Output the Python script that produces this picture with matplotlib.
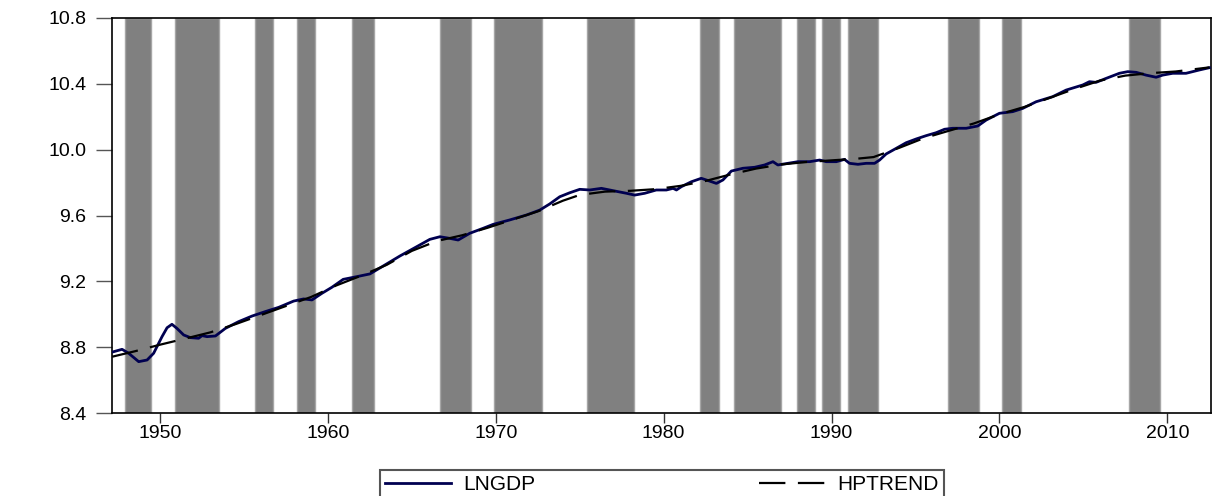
import matplotlib
matplotlib.use("Agg")
import matplotlib.pyplot as plt
from matplotlib.ticker import FixedLocator, FormatStrFormatter

plt.rcParams["font.family"] = ["Liberation Sans", "DejaVu Sans"]
plt.rcParams["lines.scale_dashes"] = False

# shaded periods (start, end) in years
shade_start = [1947.92, 1950.91, 1955.65, 1958.15, 1961.41, 1966.67, 1969.92, 1975.42,
               1982.18, 1984.19, 1987.94, 1989.42, 1990.95, 1996.92, 2000.18, 2007.71]
shade_end = [1949.46, 1953.49, 1956.74, 1959.24, 1962.74, 1968.51, 1972.76, 1978.26,
             1983.27, 1987.00, 1989.03, 1990.49, 1992.78, 1998.77, 2001.27, 2009.54]

lngdp_year = [1947.15, 1947.74, 1948.13, 1948.73, 1949.23, 1949.62, 1950.12, 1950.42,
              1950.71, 1951.01, 1951.41, 1951.81, 1952.30, 1952.50, 1952.80, 1953.30,
              1953.89, 1954.68, 1955.48, 1956.27, 1957.07, 1957.96, 1958.55, 1959.05,
              1959.64, 1960.24, 1960.91, 1961.70, 1962.50, 1963.29, 1964.29, 1965.28,
              1966.07, 1966.67, 1967.26, 1967.76, 1968.45, 1969.24, 1969.84, 1970.83,
              1971.83, 1972.62, 1973.21, 1973.81, 1974.40, 1975.00, 1975.60, 1976.29,
              1976.98, 1977.78, 1978.27, 1978.87, 1979.56, 1980.16, 1980.56, 1980.76,
              1981.05, 1981.65, 1982.24, 1982.74, 1983.14, 1983.53, 1984.03, 1984.72,
              1985.42, 1986.01, 1986.51, 1986.80, 1987.40, 1988.00, 1988.69, 1989.29,
              1989.68, 1990.28, 1990.77, 1991.07, 1991.57, 1992.06, 1992.56, 1992.86,
              1993.25, 1993.85, 1994.44, 1995.04, 1995.63, 1996.23, 1996.73, 1997.22,
              1998.02, 1998.71, 1999.21, 2000.00, 2000.79, 2001.39, 2002.18, 2003.17,
              2003.97, 2004.96, 2005.36, 2005.75, 2006.35, 2007.14, 2007.64, 2008.14,
              2008.73, 2009.33, 2009.72, 2010.32, 2011.11, 2011.90, 2012.50]
lngdp = [8.770, 8.787, 8.763, 8.712, 8.722, 8.763, 8.864, 8.918,
         8.939, 8.914, 8.874, 8.858, 8.854, 8.870, 8.864, 8.868,
         8.914, 8.955, 8.989, 9.016, 9.042, 9.080, 9.093, 9.087,
         9.127, 9.164, 9.212, 9.228, 9.245, 9.293, 9.354, 9.410,
         9.455, 9.471, 9.461, 9.451, 9.492, 9.522, 9.546, 9.573,
         9.603, 9.633, 9.670, 9.714, 9.738, 9.759, 9.755, 9.765,
         9.751, 9.735, 9.724, 9.735, 9.755, 9.755, 9.765, 9.755,
         9.775, 9.805, 9.826, 9.809, 9.795, 9.816, 9.870, 9.887,
         9.893, 9.907, 9.927, 9.907, 9.917, 9.927, 9.927, 9.937,
         9.927, 9.927, 9.941, 9.917, 9.911, 9.917, 9.917, 9.937,
         9.974, 10.008, 10.042, 10.065, 10.085, 10.103, 10.124, 10.130,
         10.130, 10.144, 10.180, 10.221, 10.231, 10.251, 10.291, 10.322,
         10.362, 10.393, 10.413, 10.409, 10.433, 10.464, 10.474, 10.470,
         10.453, 10.440, 10.453, 10.464, 10.464, 10.484, 10.498]

# Hodrick-Prescott trend
hp_year = [1947.15, 1948.5, 1950.0, 1951.5, 1953.0, 1954.5, 1956.0, 1957.5, 1959.0,
           1960.5, 1962.0, 1963.5, 1965.0, 1966.5, 1968.0, 1969.5, 1971.0, 1972.5,
           1974.0, 1975.0, 1976.5, 1978.0, 1979.5, 1981.0, 1982.5, 1984.0, 1985.5,
           1987.0, 1988.5, 1990.0, 1991.5, 1992.5, 1994.0, 1995.5, 1997.0, 1998.5,
           2000.0, 2001.5, 2003.0, 2004.5, 2006.0, 2007.5, 2009.0, 2010.5, 2012.5]
hptrend = [8.742, 8.775, 8.815, 8.852, 8.890, 8.940, 8.995, 9.050, 9.105,
           9.175, 9.235, 9.300, 9.385, 9.445, 9.480, 9.525, 9.575, 9.625,
           9.690, 9.725, 9.745, 9.750, 9.760, 9.780, 9.810, 9.850, 9.885,
           9.910, 9.925, 9.935, 9.945, 9.955, 10.010, 10.070, 10.115, 10.160,
           10.215, 10.260, 10.315, 10.370, 10.420, 10.450, 10.465, 10.475, 10.500]

x_ticks = [1950, 1960, 1970, 1980, 1990, 2000, 2010]
y_ticks = [8.4, 8.8, 9.2, 9.6, 10.0, 10.4, 10.8]

fig = plt.figure(figsize=(12.13, 4.96), dpi=100)
ax = fig.add_axes([112 / 1213, 83 / 496, 1099 / 1213, 395 / 496])

for s, e in zip(shade_start, shade_end):
    ax.axvspan(s, e, facecolor="#808080", edgecolor="#a6a6a6", linewidth=1.0, zorder=1)

ax.plot(lngdp_year, lngdp, color="#000050", linewidth=2.0, label="LNGDP", zorder=3)
trend_line, = ax.plot(hp_year, hptrend, color="black", linewidth=1.6, label="HPTREND", zorder=4)
trend_line.set_dashes([19, 9])

ax.set_xlim(1947.14, 2012.6)
ax.set_ylim(8.4, 10.8)
ax.xaxis.set_major_locator(FixedLocator(x_ticks))
ax.yaxis.set_major_locator(FixedLocator(y_ticks))
ax.yaxis.set_major_formatter(FormatStrFormatter("%.1f"))
ax.tick_params(axis="y", direction="out", length=11.5, width=1, color="#555555",
               pad=7, labelsize=14)
ax.tick_params(axis="x", direction="out", length=7, width=1, color="#333333",
               pad=2, labelsize=14)
for sp in ax.spines.values():
    sp.set_color("black")
    sp.set_linewidth(1.2)

# legend box starts just below the tick labels and runs off the bottom edge
leg_top = 1 - 470 / 496
leg = fig.legend(loc="upper left", bbox_to_anchor=(380 / 1213, leg_top - 0.2, 564 / 1213, 0.2),
                 ncol=2, mode="expand", fontsize=15, handlelength=3.15, handletextpad=0.6,
                 borderpad=0.25, borderaxespad=0, fancybox=False, framealpha=1)
leg.get_frame().set_edgecolor("#555555")
leg.get_frame().set_linewidth(1.5)

fig.savefig("out.png", dpi=100)
